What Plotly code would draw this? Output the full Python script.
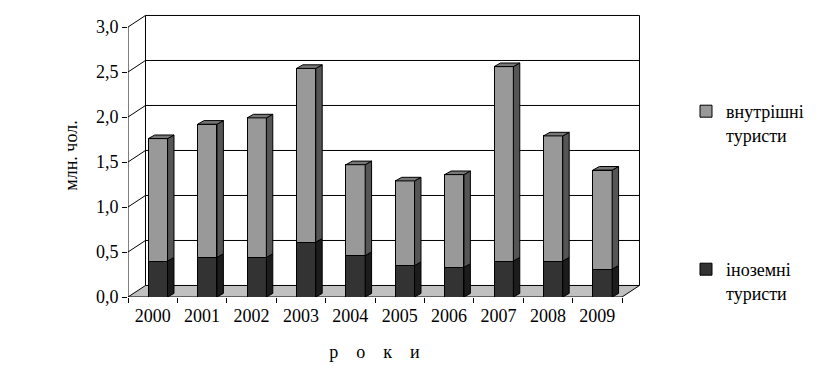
import plotly.graph_objects as go

years = ["2000", "2001", "2002", "2003", "2004", "2005", "2006", "2007", "2008", "2009"]
foreign = [0.40, 0.44, 0.44, 0.61, 0.46, 0.35, 0.33, 0.40, 0.40, 0.31]
domestic = [1.36, 1.48, 1.55, 1.93, 1.01, 0.94, 1.03, 2.16, 1.39, 1.10]
y_ticks = [0.0, 0.5, 1.0, 1.5, 2.0, 2.5, 3.0]

FONT = "Liberation Serif, Times New Roman, serif"
FS = 18
# 3-D pseudo depth (data units)
DXW, DYW = 0.354, 0.128   # wall depth
DXB, DYB = 0.13, 0.04     # bar depth
BW, BOFF = 0.39, -0.089   # bar width / offset

xs = list(range(len(years)))

fig = go.Figure()
fig.add_trace(go.Bar(x=xs, y=foreign, width=BW, offset=BOFF, name="іноземні<br>туристи",
                     marker=dict(color="#333333", line=dict(color="black", width=1)),
                     legend="legend2", showlegend=True))
fig.add_trace(go.Bar(x=xs, y=domestic, width=BW, offset=BOFF, name="внутрішні<br>туристи",
                     marker=dict(color="#999999", line=dict(color="black", width=1)),
                     legend="legend", showlegend=True))

shapes = []
x0, x1 = -0.5, len(years) - 0.5
# floor
shapes.append(dict(type="path", xref="x", yref="y", layer="below",
                   path=f"M{x0},0 L{x1},0 L{x1+DXW},{DYW} L{x0+DXW},{DYW} Z",
                   fillcolor="#c0c0c0", line=dict(color="black", width=1)))
# gridlines on side and back walls
for v in y_ticks[1:]:
    shapes.append(dict(type="path", xref="x", yref="y", layer="below",
                       path=f"M{x0},{v} L{x0+DXW},{v+DYW} L{x1+DXW},{v+DYW}",
                       line=dict(color="black", width=1)))
# wall edges
shapes.append(dict(type="line", xref="x", yref="y", layer="below",
                   x0=x0+DXW, y0=DYW, x1=x0+DXW, y1=y_ticks[-1]+DYW, line=dict(color="black", width=1)))
shapes.append(dict(type="line", xref="x", yref="y", layer="below",
                   x0=x1+DXW, y0=DYW, x1=x1+DXW, y1=y_ticks[-1]+DYW, line=dict(color="black", width=1)))
# front value axis line
shapes.append(dict(type="line", xref="x", yref="y", layer="above",
                   x0=x0, y0=0, x1=x0, y1=y_ticks[-1], line=dict(color="black", width=1)))

# bar sides and tops
for i, (f, d) in enumerate(zip(foreign, domestic)):
    xl = i + BOFF
    xr = xl + BW
    t = f + d
    shapes.append(dict(type="path", xref="x", yref="y", layer="above",
                       path=f"M{xr},0 L{xr+DXB},{DYB} L{xr+DXB},{f+DYB} L{xr},{f} Z",
                       fillcolor="#1c1c1c", line=dict(color="black", width=1)))
    shapes.append(dict(type="path", xref="x", yref="y", layer="above",
                       path=f"M{xr},{f} L{xr+DXB},{f+DYB} L{xr+DXB},{t+DYB} L{xr},{t} Z",
                       fillcolor="#555555", line=dict(color="black", width=1)))
    shapes.append(dict(type="path", xref="x", yref="y", layer="above",
                       path=f"M{xl},{t} L{xr},{t} L{xr+DXB},{t+DYB} L{xl+DXB},{t+DYB} Z",
                       fillcolor="#777777", line=dict(color="black", width=1)))

NB = "\u00a0"
xtitle = (NB * 4).join(["р", "о", "к", "и"]) + '<span style="color:rgba(0,0,0,0)">ии</span>'

# page body has an 8px margin: size the figure to fit the window
OFF = 8
W, H = 826 - OFF, 384 - OFF
fig.update_layout(
    width=W, height=H, barmode="stack", showlegend=True,
    margin=dict(l=128 - OFF, r=186, t=14 - OFF, b=87, autoexpand=False),
    plot_bgcolor="white", paper_bgcolor="white",
    font=dict(family=FONT, size=FS, color="black"),
    separators=", ",
    shapes=shapes,
    xaxis=dict(range=[-0.5, -0.5 + 512 / 49.4], tickvals=xs, ticktext=years, ticks="",
               ticklabelstandoff=6,
               showgrid=False, zeroline=False, showline=False, automargin=False,
               tickfont=dict(family=FONT, size=FS),
               minor=dict(tickvals=[i - 0.5 for i in range(len(years) + 1)], ticks="outside",
                          ticklen=5, tickcolor="black", showgrid=False),
               title=dict(text=xtitle, standoff=20, font=dict(family=FONT, size=FS))),
    yaxis=dict(range=[0, 283 / 90], tickvals=y_ticks, tickformat=".1f", ticks="outside",
               ticklen=5, tickcolor="black", showgrid=False, zeroline=False, showline=False,
               automargin=False, tickfont=dict(family=FONT, size=FS),
               title=dict(text="млн. чол.", standoff=13, font=dict(family=FONT, size=FS))),
    legend=dict(xref="container", yref="container", x=(686 - OFF) / W, y=1 - (93 - OFF) / H,
                xanchor="left", yanchor="top", valign="top", bgcolor="rgba(0,0,0,0)",
                font=dict(family=FONT, size=FS)),
    legend2=dict(xref="container", yref="container", x=(686 - OFF) / W, y=1 - (251 - OFF) / H,
                 xanchor="left", yanchor="top", valign="top", bgcolor="rgba(0,0,0,0)",
                 font=dict(family=FONT, size=FS)),
)

fig.write_html("out.html")
